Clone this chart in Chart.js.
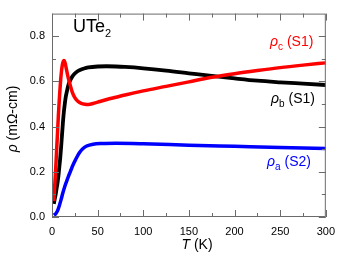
<!DOCTYPE html>
<html>
<head>
<meta charset="utf-8">
<script src="https://cdn.jsdelivr.net/npm/chart.js@4/dist/chart.umd.min.js"></script>
<style>
html,body{margin:0;padding:0;background:#fff;}
#wrap{width:343px;height:257px;position:relative;}
</style>
</head>
<body>
<div id="wrap"><canvas id="c" width="343" height="257"></canvas></div>
<script>
// ---- data ----
const tempC = [2,3,4,5,6,7,8,9,10,11,12,13,14,15,16,17,18,19,20,22,25,28,32,36,40,45,50,60,70,80,100,125,150,175,200,225,250,275,300];
const rhoC  = [0.07,0.14,0.21,0.29,0.37,0.45,0.52,0.58,0.63,0.665,0.685,0.692,0.687,0.67,0.65,0.63,0.612,0.597,0.583,0.555,0.528,0.513,0.503,0.499,0.498,0.502,0.508,0.52,0.53,0.54,0.558,0.578,0.598,0.618,0.634,0.648,0.661,0.672,0.682];

const tempB = [2,3,4,5,6,7,8,9,10,11,12,13,14,15,16,18,20,22,25,28,32,36,40,50,60,70,80,100,125,150,175,200,225,250,275,300];
const rhoB  = [0.058,0.08,0.10,0.125,0.15,0.18,0.22,0.26,0.31,0.365,0.42,0.465,0.50,0.53,0.55,0.585,0.605,0.62,0.635,0.645,0.653,0.658,0.662,0.666,0.667,0.666,0.664,0.658,0.648,0.636,0.624,0.613,0.603,0.596,0.59,0.584];

const tempA = [2,4,6,8,10,12,14,16,18,20,23,26,30,34,38,45,55,70,100,150,200,250,300];
const rhoA  = [0.008,0.014,0.027,0.05,0.078,0.108,0.135,0.158,0.18,0.20,0.23,0.255,0.284,0.303,0.314,0.322,0.325,0.326,0.324,0.318,0.313,0.308,0.303];

const xTicks = [0,50,100,150,200,250,300];
const yTicks = [0.0,0.2,0.4,0.6,0.8];
const xMinor = [25,75,125,175,225,275];
const yMinor = [0.1,0.3,0.5,0.7];

const pts = (xs, ys) => xs.map((x,i)=>({x:x, y:ys[i]}));

const FONT = '"Liberation Sans", Arial, Helvetica, sans-serif';

function drawRich(ctx, parts, x, y, align) {
  let total = 0;
  const widths = parts.map(p => {
    ctx.font = (p.italic ? 'italic ' : '') + p.size + 'px ' + FONT;
    const w = ctx.measureText(p.t).width;
    total += w;
    return w;
  });
  let cx = x;
  if (align === 'center') cx = x - total/2;
  parts.forEach((p,i) => {
    ctx.font = (p.italic ? 'italic ' : '') + p.size + 'px ' + FONT;
    ctx.fillStyle = p.color || '#000';
    ctx.textBaseline = 'alphabetic';
    ctx.textAlign = 'left';
    ctx.fillText(p.t, cx, y + (p.sub || 0));
    cx += widths[i];
  });
}

const framePlugin = {
  id: 'frame',
  afterDatasetsDraw(chart) {
    const ctx = chart.ctx;
    const a = chart.chartArea;
    const xs = chart.scales.x, ys = chart.scales.y;
    ctx.save();
    ctx.strokeStyle = '#6b6b6b';
    ctx.lineWidth = 1;
    ctx.strokeRect(a.left+0.5, a.top+0.5, a.right-a.left-1, a.bottom-a.top-1);
    ctx.beginPath();
    const maj = 7, mn = 4;
    xTicks.forEach(v => {
      const px = Math.round(xs.getPixelForValue(v)) + 0.5;
      ctx.moveTo(px, a.bottom); ctx.lineTo(px, a.bottom - maj);
      ctx.moveTo(px, a.top); ctx.lineTo(px, a.top + maj);
    });
    xMinor.forEach(v => {
      const px = Math.round(xs.getPixelForValue(v)) + 0.5;
      ctx.moveTo(px, a.bottom); ctx.lineTo(px, a.bottom - mn);
      ctx.moveTo(px, a.top); ctx.lineTo(px, a.top + mn);
    });
    yTicks.forEach(v => {
      const py = Math.round(ys.getPixelForValue(v)) + 0.5;
      ctx.moveTo(a.left, py); ctx.lineTo(a.left + maj, py);
      ctx.moveTo(a.right, py); ctx.lineTo(a.right - maj, py);
    });
    yMinor.forEach(v => {
      const py = Math.round(ys.getPixelForValue(v)) + 0.5;
      ctx.moveTo(a.left, py); ctx.lineTo(a.left + mn, py);
      ctx.moveTo(a.right, py); ctx.lineTo(a.right - mn, py);
    });
    ctx.stroke();

    // annotations
    drawRich(ctx, [{t:'UTe', size:18}, {t:'2', size:11, sub:5}], 73, 32);
    drawRich(ctx, [{t:'ρ', size:14, italic:true, color:'#ff0000'}, {t:'c', size:10, sub:4, color:'#ff0000'}, {t:' (S1)', size:14, color:'#ff0000'}], 270, 46);
    drawRich(ctx, [{t:'ρ', size:14, italic:true}, {t:'b', size:10, sub:4}, {t:' (S1)', size:14}], 271, 103);
    drawRich(ctx, [{t:'ρ', size:14, italic:true, color:'#0000ff'}, {t:'a', size:10, sub:4, color:'#0000ff'}, {t:' (S2)', size:14, color:'#0000ff'}], 267, 166);

    // axis titles
    drawRich(ctx, [{t:'T', size:14, italic:true}, {t:' (K)', size:14}], 197, 249, 'center');
    ctx.save();
    ctx.translate(17, 119);
    ctx.rotate(-Math.PI/2);
    drawRich(ctx, [{t:'ρ', size:14, italic:true}, {t:' (mΩ-cm)', size:14}], 0, 0, 'center');
    ctx.restore();
    ctx.restore();
  }
};

new Chart(document.getElementById('c'), {
  type: 'line',
  data: {
    datasets: [
      {label:'ρc (S1)', data: pts(tempC, rhoC), borderColor:'#ff0000', borderWidth:3.5, pointRadius:0, cubicInterpolationMode:'monotone', fill:false},
      {label:'ρb (S1)', data: pts(tempB, rhoB), borderColor:'#000000', borderWidth:3.8, pointRadius:0, cubicInterpolationMode:'monotone', fill:false},
      {label:'ρa (S2)', data: pts(tempA, rhoA), borderColor:'#0000ff', borderWidth:3.5, pointRadius:0, cubicInterpolationMode:'monotone', fill:false}
    ]
  },
  options: {
    responsive: false,
    animation: false,
    devicePixelRatio: 1,
    layout: {padding: {left:0, right:15, top:3, bottom:0}},
    plugins: {legend:{display:false}, tooltip:{enabled:false}},
    scales: {
      x: {
        type:'linear', min:0, max:300,
        afterBuildTicks: s => { s.ticks = xTicks.map(v=>({value:v})); },
        afterFit: s => { s.height = 40; },
        grid: {display:false, drawTicks:false},
        border: {display:false},
        ticks: {font:{size:11, family:FONT}, color:'#000', padding:8, maxRotation:0, autoSkip:false,
                callback: v => String(v)}
      },
      y: {
        type:'linear', min:0, max:0.9,
        afterBuildTicks: s => { s.ticks = yTicks.map(v=>({value:v})); },
        afterFit: s => { s.width = 52; },
        grid: {display:false, drawTicks:false},
        border: {display:false},
        ticks: {font:{size:11, family:FONT}, color:'#000', padding:7, autoSkip:false,
                callback: v => Number(v).toFixed(1)}
      }
    }
  },
  plugins: [framePlugin]
});
</script>
</body>
</html>
